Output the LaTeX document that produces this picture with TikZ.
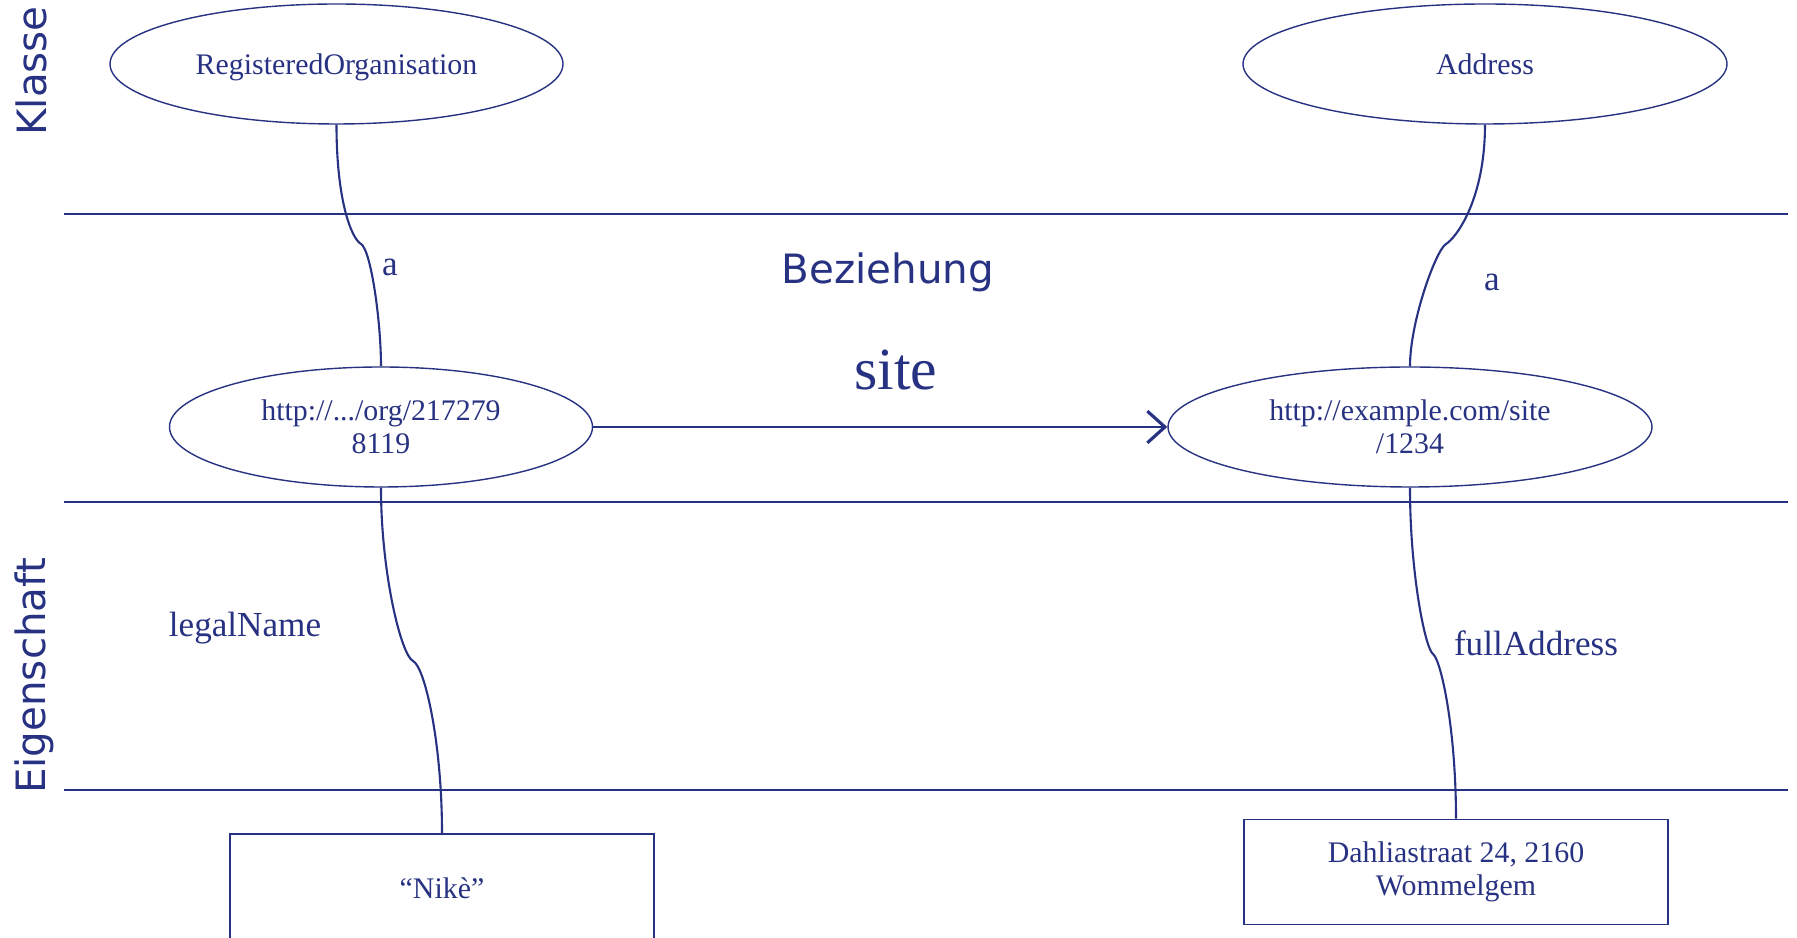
\documentclass[tikz,border=0pt]{standalone}
\usepackage{fontspec}
\setmainfont{Liberation Serif}
\newfontfamily\labelfont{DejaVu Sans}
\usepackage{tikz}
\usetikzlibrary{arrows,arrows.meta,shapes,positioning}
\usepackage{xcolor}
\definecolor{rdfblue}{RGB}{40,50,130}
\tikzstyle{lane} = [line width=0.75pt,color=rdfblue]
\tikzstyle{res} = [ellipse,draw=rdfblue,line width=0.4pt,inner sep=0pt,minimum height=1.2cm,align=center,text=rdfblue,font=\fontsize{8.5}{9.3}\selectfont]
\tikzstyle{lit} = [rectangle,draw=rdfblue,line width=0.5pt,inner sep=0pt,minimum width=4.24cm,align=center,text=rdfblue,font=\fontsize{8.5}{9.3}\selectfont]
\tikzstyle{conn} = [line width=0.6pt,color=rdfblue]
\tikzstyle{arrow} = [line width=0.8pt,-{Straight Barb[length=5pt,width=9pt,line width=0.9pt]},color=rdfblue]
\tikzstyle{lanelabel} = [rotate=90,text=rdfblue,font=\labelfont\fontsize{11.5}{12}\selectfont]
\tikzstyle{prop} = [text=rdfblue,font=\fontsize{10}{11}\selectfont]

\begin{document}
\begin{tikzpicture}
\useasboundingbox (0,0) rectangle (17.97,9.38);

% Lanes
\draw[lane] (0.64,7.24) -- (17.88,7.24);
\draw[lane] (0.64,4.36) -- (17.88,4.36);
\draw[lane] (0.64,1.48) -- (17.88,1.48);
\node[lanelabel] (klasse) at (0.31,8.67) {Klasse};
\node[lanelabel] (eigen) at (0.34,2.62) {Eigenschaft};
\node[text=rdfblue,font=\labelfont\fontsize{11.5}{12}\selectfont] (bez) at (8.88,6.66) {Beziehung};

% Classes
\node[res,minimum width=4.53cm,text depth=0pt] (ro) at (3.365,8.74) {RegisteredOrganisation};
\node[res,minimum width=4.84cm] (addr) at (14.85,8.74) {Address};

% Resources
\node[res,minimum width=4.23cm] (org) at (3.81,5.11) {http://.../org/217279\\8119};
\node[res,minimum width=4.84cm] (site) at (14.10,5.11) {http://example.com/site\\/1234};

% Literals
\node[lit,minimum height=1.08cm] (nike) at (4.42,0.50) {“Nikè”};
\node[lit,minimum height=1.05cm] (full) at (14.56,0.66) {Dahliastraat 24, 2160\\Wommelgem};

% Kinks
\coordinate (k1) at (3.61,6.94);
\coordinate (k2) at (14.46,6.94);
\coordinate (k3) at (4.13,2.77);
\coordinate (k4) at (14.33,2.84);

% Type links
\draw[conn] (ro.south) .. controls +(0,-0.75) and +(-0.1,0.06) .. (k1) .. controls +(0.1,-0.06) and +(0,0.45) .. (org.north);
\draw[conn] (addr.south) .. controls +(0,-0.75) and +(0.1,0.06) .. (k2) .. controls +(-0.1,-0.06) and +(0,0.45) .. (site.north);
\node[prop] (a1) at (3.90,6.71) {a};
\node[prop] (a2) at (14.92,6.56) {a};

% Properties
\draw[conn] (org.south) .. controls +(0,-0.85) and +(-0.12,0.06) .. (k3) .. controls +(0.12,-0.06) and +(0,0.9) .. (nike.north);
\draw[conn] (site.south) .. controls +(0,-0.85) and +(-0.08,0.06) .. (k4) .. controls +(0.08,-0.06) and +(0,0.9) .. (full.north);
\node[prop] (legal) at (2.45,3.10) {legalName};
\node[prop] (fulladdr) at (15.36,2.95) {fullAddress};

% Relation
\draw[arrow] (org) -- (site);
\node[text=rdfblue,font=\fontsize{17}{18}\selectfont] (sitelbl) at (8.96,5.68) {site};
\end{tikzpicture}
\end{document}
